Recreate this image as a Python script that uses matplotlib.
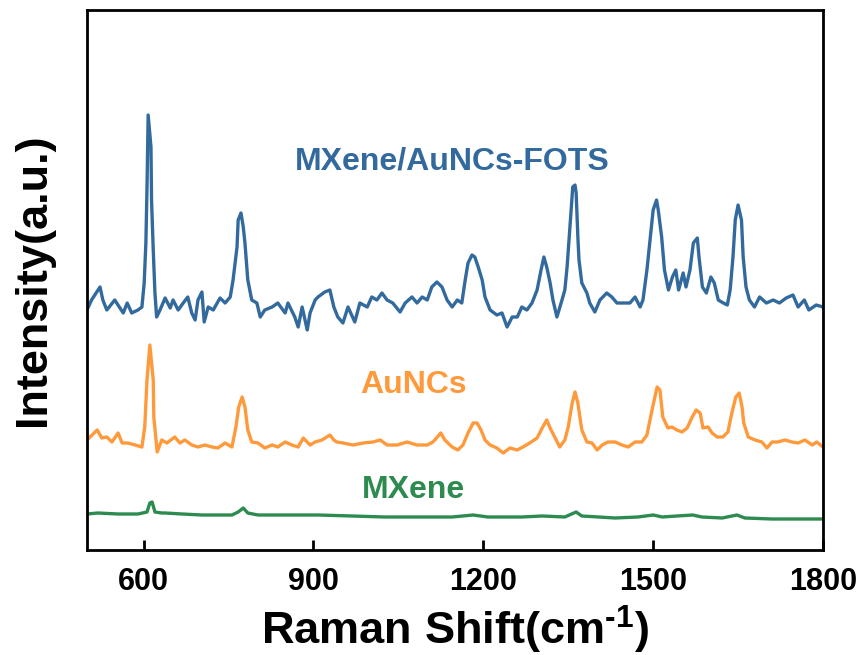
import matplotlib
matplotlib.use("Agg")
import matplotlib.pyplot as plt

plt.rcParams["mathtext.fontset"] = "custom"
plt.rcParams["mathtext.rm"] = "Liberation Sans:bold"
plt.rcParams["mathtext.bf"] = "Liberation Sans:bold"
plt.rcParams["mathtext.it"] = "Liberation Sans:bold"

# Raman shift (cm^-1) and intensity (a.u.)
blue_x = [500, 508, 523, 528, 535, 549, 564, 571, 579, 590, 597, 601, 604, 606, 608, 613, 614, 617, 620, 623,
          629, 638, 647, 652, 661, 670, 678, 685, 691, 696, 703, 707, 714, 723, 735, 744, 753, 758, 765, 767,
          772, 776, 779, 784, 791, 800, 806, 814, 827, 837, 850, 855, 867, 873, 880, 889, 894, 903, 908, 920,
          929, 936, 943, 952, 961, 973, 982, 995, 1003, 1012, 1021, 1030, 1040, 1053, 1062, 1074, 1083, 1092,
          1101, 1109, 1118, 1127, 1136, 1145, 1154, 1162, 1168, 1173, 1180, 1185, 1191, 1198, 1203, 1212,
          1224, 1233, 1242, 1251, 1260, 1268, 1277, 1286, 1295, 1302, 1307, 1312, 1318, 1323, 1330, 1339,
          1344, 1348, 1353, 1358, 1362, 1364, 1367, 1369, 1374, 1383, 1388, 1397, 1406, 1418, 1427, 1436,
          1450, 1459, 1468, 1477, 1482, 1489, 1495, 1500, 1506, 1509, 1515, 1520, 1527, 1534, 1540, 1545,
          1553, 1558, 1565, 1571, 1578, 1581, 1587, 1594, 1602, 1608, 1615, 1624, 1631, 1636, 1641, 1645,
          1650, 1656, 1659, 1664, 1670, 1679, 1688, 1700, 1712, 1723, 1735, 1747, 1756, 1767, 1775, 1788, 1800]
blue_y = [240, 250, 263, 250, 240, 250, 237, 247, 237, 240, 243, 267, 307, 363, 435, 403, 350, 300, 257, 233,
          240, 252, 242, 250, 240, 247, 253, 237, 230, 250, 258, 228, 243, 240, 252, 247, 253, 270, 303, 330,
          337, 323, 307, 270, 250, 247, 233, 240, 243, 247, 237, 247, 233, 223, 243, 220, 237, 250, 253, 258,
          260, 243, 233, 227, 243, 228, 247, 243, 253, 250, 257, 250, 247, 238, 247, 253, 247, 253,
          250, 263, 268, 263, 250, 243, 250, 247, 270, 287, 295, 293, 283, 270, 253, 240,
          235, 237, 223, 233, 233, 243, 240, 247, 260, 280, 293, 283, 267, 250, 233, 250,
          260, 283, 323, 363, 365, 357, 313, 290, 267, 257, 247, 238, 250, 257, 253, 247,
          247, 247, 253, 243, 250, 280, 313, 340, 350, 340, 313, 280, 260, 273, 280, 260,
          277, 263, 280, 307, 312, 293, 263, 257, 273, 267, 250, 247, 245, 260, 293, 330,
          345, 330, 293, 263, 250, 243, 253, 247, 250, 247, 252, 255, 243, 250, 240, 245, 243]

orange_x = [500, 509, 518, 526, 535, 544, 555, 562, 572, 585, 597, 602, 606, 611, 617, 618, 624, 632, 641, 655,
            664, 673, 685, 696, 708, 721, 731, 744, 756, 763, 768, 774, 779, 784, 791, 802, 814, 827, 837, 850,
            862, 873, 882, 894, 903, 915, 929, 936, 941, 952, 970, 988, 1005, 1018, 1030, 1048, 1065, 1083,
            1101, 1111, 1125, 1132, 1145, 1155, 1164, 1173, 1182, 1189, 1196, 1203, 1212, 1224, 1235, 1247,
            1260, 1270, 1282, 1295, 1305, 1312, 1318, 1327, 1335, 1344, 1350, 1357, 1362, 1367, 1374, 1383,
            1392, 1401, 1410, 1420, 1433, 1445, 1456, 1468, 1480, 1489, 1498, 1507, 1512, 1517, 1526, 1533,
            1542, 1551, 1560, 1569, 1576, 1583, 1588, 1597, 1604, 1613, 1623, 1632, 1639, 1646, 1652, 1657,
            1660, 1668, 1680, 1692, 1701, 1710, 1720, 1733, 1745, 1756, 1768, 1781, 1789, 1800]
orange_y = [110, 115, 120, 112, 113, 108, 117, 107, 107, 105, 103, 123, 170, 205, 170, 133, 98, 110, 107, 113,
            107, 110, 105, 103, 105, 103, 102, 107, 103, 123, 143, 153, 143, 120, 108, 107, 102, 105, 103, 108,
            105, 103, 112, 105, 108, 110, 115, 110, 108, 107, 105, 107, 108, 110, 105, 105, 108, 105,
            105, 108, 117, 110, 103, 100, 105, 117, 127, 127, 120, 110, 105, 102, 97, 102,
            100, 103, 107, 112, 123, 130, 122, 112, 103, 110, 123, 147, 158, 147, 120, 108,
            107, 100, 105, 108, 108, 105, 103, 108, 108, 115, 140, 163, 160, 133, 122, 123,
            120, 118, 122, 133, 140, 137, 122, 123, 117, 113, 113, 118, 137, 153, 157, 143,
            127, 113, 110, 108, 102, 108, 108, 110, 108, 107, 110, 105, 108, 103]

green_x = [500, 519, 555, 590, 606, 611, 615, 620, 632, 638, 668, 703, 756, 767, 776, 784, 802, 850, 908, 968,
           1026, 1085, 1145, 1182, 1208, 1268, 1304, 1344, 1364, 1374, 1433, 1473, 1500, 1516, 1542, 1570,
           1586, 1622, 1648, 1662, 1710, 1795, 1800]
green_y = [36, 37, 36, 36, 38, 47, 48, 38, 37, 37, 36, 35, 35, 38, 42, 37, 35, 35, 35, 34,
           33, 33, 33, 35, 33, 33, 34, 33, 38, 34, 32, 33, 35, 33, 34, 35,
           33, 32, 35, 32, 31, 31, 31]

series_names = ["MXene/AuNCs-FOTS", "AuNCs", "MXene"]
series_colors = ["#336A9E", "#FF9A3C", "#2E8B50"]
label_pos = [(1145, 388), (1076, 165), (1077, 60)]
x_ticks = [600, 900, 1200, 1500, 1800]

fig = plt.figure(figsize=(8.65, 6.55), dpi=100)
ax = fig.add_axes([87 / 865, 1 - 550 / 655, (823 - 87) / 865, (550 - 10) / 655])

for (xs, ys), c in zip([(blue_x, blue_y), (orange_x, orange_y), (green_x, green_y)], series_colors):
    ax.plot(xs, ys, color=c, lw=2.4, solid_joinstyle="round")

ax.set_xlim(500, 1800)
ax.set_ylim(0, 540)
ax.set_xticks(x_ticks)
ax.set_yticks([])
ax.tick_params(axis="x", direction="in", length=7, width=2, pad=12)
for lab in ax.get_xticklabels():
    lab.set_fontfamily("Liberation Sans")
    lab.set_fontweight("bold")
    lab.set_fontsize(22)
for sp in ax.spines.values():
    sp.set_linewidth(2)

ax.set_xlabel(r"Raman Shift(cm$^{\text{-}1}$)", fontsize=32.5, fontweight="bold",
              family="Liberation Sans", labelpad=5)
ax.set_ylabel("Intensity(a.u.)", fontsize=32.5, fontweight="bold", family="Liberation Sans", labelpad=24)

for name, (lx, ly), c in zip(series_names, label_pos, series_colors):
    ax.text(lx, ly, name, color=c, fontsize=23, fontweight="bold", family="Liberation Sans",
            ha="center", va="center")

fig.savefig("out.png", dpi=100)
